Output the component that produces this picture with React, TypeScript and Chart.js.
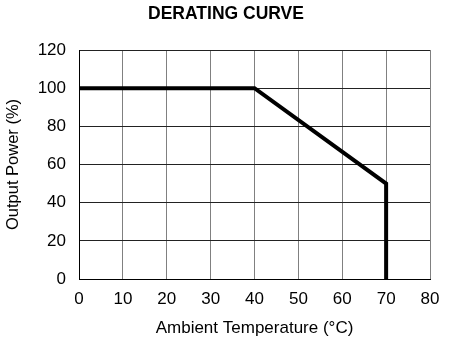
import React, { useEffect, useRef } from "react";
import { Chart, registerables } from "chart.js";

Chart.register(...registerables);

const temperatures = [0, 40, 70, 70];
const outputPower = [100, 100, 50, 0];
const xTicks = [0, 10, 20, 30, 40, 50, 60, 70, 80];
const yTicks = [0, 20, 40, 60, 80, 100, 120];

export default function App() {
  const ref = useRef<HTMLCanvasElement | null>(null);
  useEffect(() => {
    if (!ref.current) return;
    const font = "'Liberation Sans', Arial, sans-serif";
    const chart = new Chart(ref.current, {
      type: "scatter",
      data: {
        datasets: [
          {
            data: temperatures.map((x, i) => ({ x, y: outputPower[i] })),
            showLine: true,
            borderColor: "#000",
            borderWidth: 4,
            pointRadius: 0,
            fill: false,
            tension: 0,
          },
        ],
      },
      options: {
        animation: false,
        responsive: false,
        layout: { padding: { left: 22, right: 20, top: 0, bottom: 0 } },
        plugins: {
          legend: { display: false },
          tooltip: { enabled: false },
          title: {
            display: true,
            text: "DERATING CURVE",
            color: "#000",
            font: { family: font, size: 17.5, weight: "bold" },
            padding: { top: 4, bottom: 25 },
          },
        },
        scales: {
          x: {
            type: "linear",
            min: 0,
            max: 80,
            afterBuildTicks: (s: any) => {
              s.ticks = xTicks.map((v) => ({ value: v }));
            },
            afterFit: (s: any) => {
              s.height = 64;
            },
            ticks: {
              color: "#000",
              font: { family: font, size: 17 },
              padding: 10,
              maxRotation: 0,
            },
            grid: { color: "#808080", lineWidth: 1, drawTicks: false },
            border: { color: "#000", width: 1 },
            title: {
              display: true,
              text: "Ambient Temperature (°C)",
              color: "#000",
              font: { family: font, size: 17 },
              padding: { top: 10, bottom: 4 },
            },
          },
          y: {
            type: "linear",
            min: 0,
            max: 120,
            afterBuildTicks: (s: any) => {
              s.ticks = yTicks.map((v) => ({ value: v }));
            },
            afterFit: (s: any) => {
              s.width = 57;
            },
            ticks: {
              color: "#000",
              font: { family: font, size: 17 },
              padding: 13,
            },
            grid: { color: "#222", lineWidth: 1, drawTicks: false },
            border: { color: "#000", width: 1 },
            title: {
              display: true,
              text: "Output Power (%)",
              color: "#000",
              font: { family: font, size: 16.5 },
              padding: { top: -18, bottom: 0 },
            },
          },
        },
      },
    });
    return () => chart.destroy();
  }, []);
  return (
    <div style={{ position: "fixed", left: 0, top: 0, width: 450, height: 343, background: "#fff" }}>
      <canvas ref={ref} width={450} height={343} style={{ width: 450, height: 343 }} />
    </div>
  );
}
